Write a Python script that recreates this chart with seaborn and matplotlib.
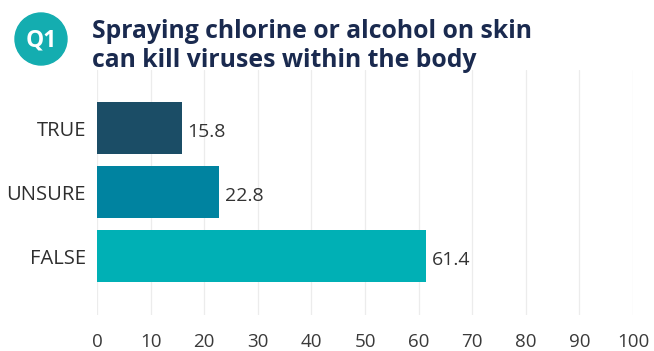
import matplotlib
matplotlib.use("Agg")
import matplotlib.pyplot as plt
from matplotlib.patches import Ellipse
import seaborn as sns
import pandas as pd

categories = ["TRUE", "UNSURE", "FALSE"]
values = [15.8, 22.8, 61.4]
colors = ["#1b4d66", "#0083a0", "#00b0b5"]
x_ticks = [0, 10, 20, 30, 40, 50, 60, 70, 80, 90, 100]
title_lines = ["Spraying chlorine or alcohol on skin",
               "can kill viruses within the body"]

sns.set_theme(style="white")
plt.rcParams["font.family"] = ["Open Sans", "DejaVu Sans"]

df = pd.DataFrame({"answer": categories, "pct": values})

W, H = 654, 351
fig = plt.figure(figsize=(W / 100, H / 100), dpi=100)
ax = fig.add_axes([97 / W, 1 - 315 / H, 536 / W, 245 / H])

sns.barplot(data=df, x="pct", y="answer", hue="answer", palette=colors,
            order=categories, legend=False, width=0.81, ax=ax,
            saturation=1, edgecolor="none")

ax.set_xlim(0, 100)
ax.set_ylim(2.92, -0.906)
ax.set_xticks(x_ticks)
ax.set_xticklabels([str(t) for t in x_ticks])
ax.xaxis.grid(True, color="#ececec", linewidth=0.9)
ax.set_axisbelow(True)
for s in ax.spines.values():
    s.set_visible(False)
ax.set_xlabel("")
ax.set_ylabel("")
ax.tick_params(axis="x", length=0, pad=13, labelsize=13.5, labelcolor="#3a3a3a")
ax.tick_params(axis="y", length=0, pad=8, labelsize=14.5, labelcolor="#2e2e2e")

for i, v in enumerate(values):
    ax.text(v + 1.0, i + 0.06, f"{v:.1f}", va="center", ha="left",
            fontsize=14, color="#333333")

# Question badge and two-line title
cx, cy, r = 41, 39, 26
fig.add_artist(Ellipse((cx / W, 1 - cy / H), 2 * r / W, 2 * r / H,
                       transform=fig.transFigure, color="#14adb0", zorder=5))
fig.text(cx / W, 1 - (cy + 1) / H, "Q1", ha="center", va="center",
         fontsize=16.5, fontweight="bold", color="white", zorder=6)
for line, base in zip(title_lines, [38, 67]):
    fig.text(92 / W, 1 - base / H, line, ha="left", va="baseline",
             fontsize=17.8, fontweight="bold", color="#1a2a4f")

fig.savefig("out.png", dpi=100)
